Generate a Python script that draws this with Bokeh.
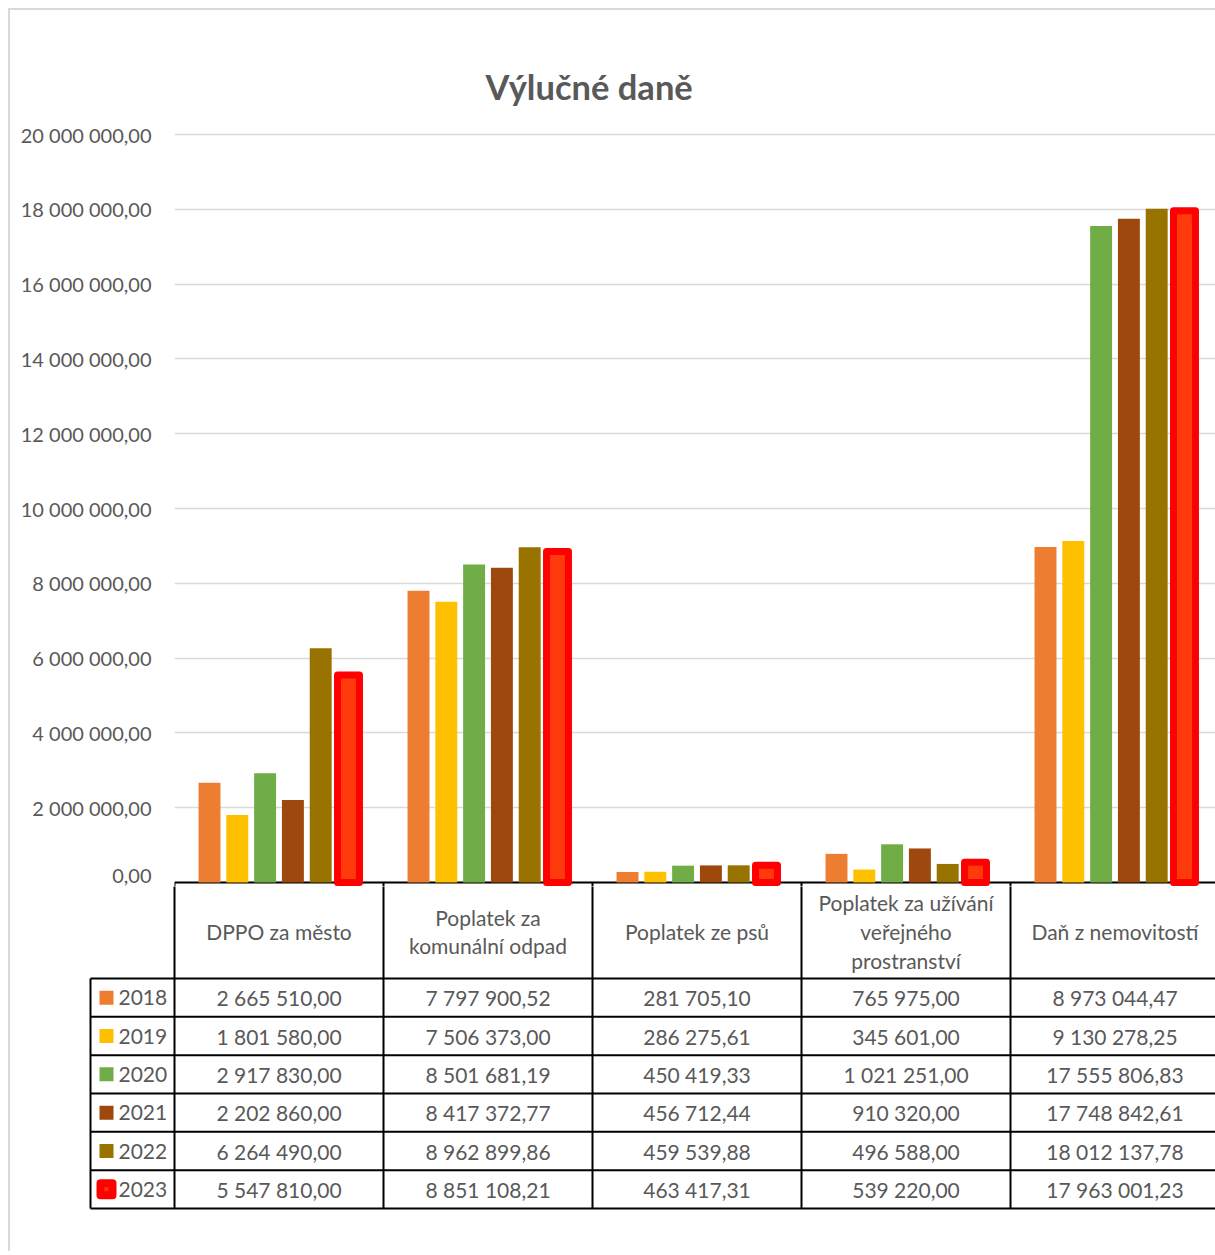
from bokeh.plotting import figure
from bokeh.models import Range1d, FixedTicker, Span
from bokeh.layouts import column
from bokeh.embed import file_html
from bokeh.resources import INLINE
from bokeh.core.properties import value

# ---------------- data ----------------
title_text = "Výlučné daně"
categories = ["DPPO za město", "Poplatek za\nkomunální odpad", "Poplatek ze psů",
              "Poplatek za užívání\nveřejného\nprostranství", "Daň z nemovitostí"]
years = ["2018", "2019", "2020", "2021", "2022", "2023"]
v2018 = [2665510.00, 7797900.52, 281705.10, 765975.00, 8973044.47]
v2019 = [1801580.00, 7506373.00, 286275.61, 345601.00, 9130278.25]
v2020 = [2917830.00, 8501681.19, 450419.33, 1021251.00, 17555806.83]
v2021 = [2202860.00, 8417372.77, 456712.44, 910320.00, 17748842.61]
v2022 = [6264490.00, 8962899.86, 459539.88, 496588.00, 18012137.78]
v2023 = [5547810.00, 8851108.21, 463417.31, 539220.00, 17963001.23]
series = [v2018, v2019, v2020, v2021, v2022, v2023]
y_ticks = [0, 2000000, 4000000, 6000000, 8000000, 10000000,
           12000000, 14000000, 16000000, 18000000, 20000000]
colors = ["#ED7D31", "#FFC000", "#70AD47", "#9E480E", "#997300", "#FF3B0B"]
highlight_line = "#FF0000"

# ---------------- style / layout ----------------
FONT = "Lato"
GREY = "#595959"
FS = "21px"
PX = 209.0          # pixels per category
LEFT0 = 10          # page x where content starts (after margin + border)
TOP0 = 10
FRAME_L = 174
RIGHT = 1215
FRAME_T = 132
Y20 = 134
ZERO_Y = 882
FRAME_B = 886
BOTTOM = 1251
YS = (ZERO_Y - Y20) / 20e6   # px per unit value


def fmt(v):
    s = f"{v:,.2f}"
    return s.replace(",", " ").replace(".", ",")


p = figure(width=RIGHT - LEFT0, height=FRAME_B - TOP0, output_backend="svg",
           toolbar_location=None, x_axis_location=None,
           x_range=Range1d(0, (RIGHT - FRAME_L) / PX),
           y_range=Range1d(-(FRAME_B - ZERO_Y) / YS, 20e6 + (Y20 - FRAME_T) / YS),
           min_border_left=FRAME_L - LEFT0, min_border_right=0,
           min_border_top=FRAME_T - TOP0, min_border_bottom=0,
           title=title_text)
p.frame_align = False
p.outline_line_color = None
p.background_fill_color = "white"
p.border_fill_color = "white"
p.title.align = "left"
p.title.offset = 311
p.title.standoff = 52
p.title.text_font = FONT
p.title.text_font_size = "34.5px"
p.title.text_font_style = "bold"
p.title.text_color = GREY

yax = p.yaxis[0]
yax.ticker = FixedTicker(ticks=y_ticks)
yax.major_label_overrides = {t: fmt(t) for t in y_ticks}
yax.axis_line_color = None
yax.major_tick_line_color = None
yax.minor_tick_line_color = None
yax.major_tick_out = 0
yax.major_tick_in = 0
yax.minor_tick_out = 0
yax.minor_tick_in = 0
yax.major_label_standoff = 23
yax.major_label_text_font = FONT
yax.major_label_text_font_size = "20px"
yax.major_label_text_color = GREY
p.xgrid.visible = False
p.ygrid.grid_line_color = "#D9D9D9"
p.ygrid.grid_line_width = 1.5

p.add_layout(Span(location=0, dimension="width", line_color="black",
                  line_width=2, level="underlay"))
p.segment(x0=[0, 1, 2, 3, 4], x1=[0, 1, 2, 3, 4], y0=[0] * 5, y1=[-1e6] * 5,
          line_color="black", line_width=2)

STEP = 0.133
BW = 0.105
for j, vals in enumerate(series):
    xs = [i + 0.5 + (j - 2.5) * STEP for i in range(len(categories))]
    if j == len(series) - 1:
        p.vbar(x=xs, top=vals, bottom=0, width=BW, fill_color=colors[j],
               line_color=highlight_line, line_width=7, line_join="round")
    else:
        p.vbar(x=xs, top=vals, bottom=0, width=BW, fill_color=colors[j],
               line_color=None)

# ---------------- data table ----------------
q = figure(width=RIGHT - LEFT0, height=BOTTOM - FRAME_B, output_backend="svg",
           toolbar_location=None, x_axis_location=None, y_axis_location=None,
           x_range=Range1d(-(FRAME_L - LEFT0) / PX, (RIGHT - FRAME_L) / PX),
           y_range=Range1d(BOTTOM, FRAME_B), min_border=0,
           min_border_left=0, min_border_right=0, min_border_top=0, min_border_bottom=0)
q.frame_align = False
q.outline_line_color = None
q.background_fill_color = "white"
q.border_fill_color = "white"
q.xgrid.visible = False
q.ygrid.visible = False

HDR_B = 978
ROW_H = (1208 - 978) / 6.0
LEG_L = (90 - FRAME_L) / PX
XR = 5.3
row_lines = [HDR_B + ROW_H * k for k in range(7)]
q.segment(x0=[LEG_L] * 7, x1=[XR] * 7, y0=row_lines, y1=row_lines,
          line_color="black", line_width=2)
vx = [LEG_L, 0, 1, 2, 3, 4]
vy0 = [HDR_B, 880, 880, 880, 880, 880]
q.segment(x0=vx, x1=vx, y0=vy0, y1=[row_lines[-1]] * 6, line_color="black", line_width=2)

q.text(x=[i + 0.5 for i in range(len(categories))], y=[(ZERO_Y + HDR_B) / 2 + 1] * len(categories),
       text=categories, text_align="center", text_baseline="middle",
       text_font=value(FONT), text_font_size=FS, text_color=GREY,
       text_line_height=1.15)

for k, vals in enumerate(series):
    cy = HDR_B + ROW_H * (k + 0.5)
    q.text(x=[i + 0.5 for i in range(len(vals))], y=[cy] * len(vals),
           text=[fmt(v) for v in vals], text_align="center", text_baseline="middle",
           text_font=value(FONT), text_font_size=FS, text_color=GREY)
    sx = (106 - FRAME_L) / PX
    if k == len(series) - 1:
        q.scatter(x=[sx], y=[cy], marker="square", size=12, fill_color=colors[k],
                  line_color=highlight_line, line_width=8, line_join="round")
    else:
        q.scatter(x=[sx], y=[cy], marker="square", size=14, fill_color=colors[k],
                  line_color=None)
    q.text(x=[(118 - FRAME_L) / PX], y=[cy], text=[years[k]], text_align="left",
           text_baseline="middle", text_font=value(FONT), text_font_size=FS,
           text_color=GREY)

layout = column(p, q, spacing=0)
layout.styles = {"margin-left": "8px", "margin-top": "8px",
                 "border-left": "2px solid #D9D9D9", "border-top": "2px solid #D9D9D9"}

open("out.html", "w").write(file_html(layout, INLINE))
